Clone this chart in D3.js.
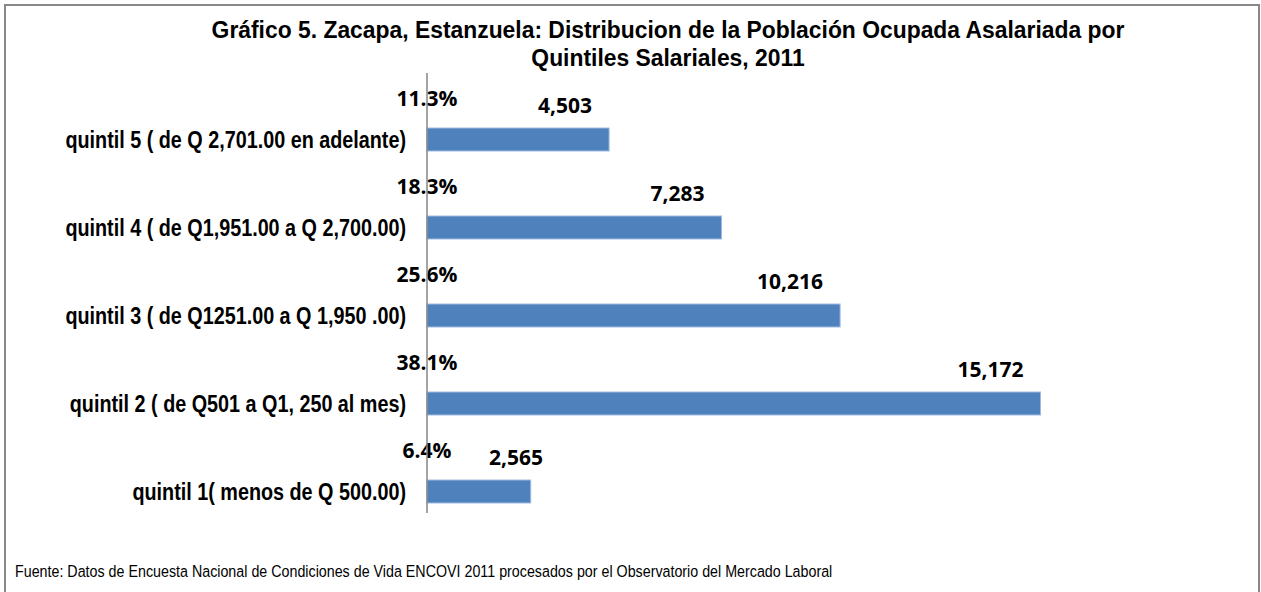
<!doctype html>
<html>
<head>
  <meta charset="utf-8">
  <title>Zacapa, Estanzuela: Población Ocupada Asalariada por Quintiles</title>
  <script src="https://cdnjs.cloudflare.com/ajax/libs/d3/7.8.5/d3.min.js"></script>
  <style>
  body { margin: 0; background: #fff; }
  .narrow { font-family: "Liberation Sans Narrow", "Arial Narrow", "Liberation Sans", sans-serif; fill: #000; }
  .lbl { font-family: "Open Sans", sans-serif; font-weight: bold; font-size: 21px; fill: #000; }
  </style>
</head>
<body>
  <script>
  var categories = [
    "quintil 5 ( de Q 2,701.00 en adelante)",
    "quintil 4 ( de Q1,951.00 a Q  2,700.00)",
    "quintil 3 ( de Q1251.00 a Q  1,950 .00)",
    "quintil 2 ( de Q501 a Q1, 250 al mes)",
    "quintil 1( menos de Q 500.00)"
  ];
  var workers = [4503, 7283, 10216, 15172, 2565];
  var shares = ["11.3%", "18.3%", "25.6%", "38.1%", "6.4%"];

  var titleLines = [
    "Gráfico 5. Zacapa, Estanzuela: Distribucion de la Población Ocupada Asalariada por",
    "Quintiles Salariales, 2011"
  ];
  var source = "Fuente: Datos de Encuesta Nacional de Condiciones de Vida ENCOVI 2011 procesados por el Observatorio del Mercado Laboral";

  var W = 1261, H = 592;
  var svg = d3.select("body").append("svg")
      .attr("width", W)
      .attr("height", H);

  // no narrow font installed: squeeze a normal one horizontally
  function narrowText(g, px, py, sx, anchor) {
    return g.append("g")
      .attr("transform", "translate(" + px + "," + py + ") scale(" + sx + ",1)")
      .append("text")
      .attr("class", "narrow")
      .attr("text-anchor", anchor);
  }

  svg.append("rect")
    .attr("x", 5).attr("y", 5)
    .attr("width", 1254).attr("height", 600)
    .attr("fill", "#fff")
    .attr("stroke", "#888")
    .attr("stroke-width", 2);

  titleLines.forEach(function(t, i) {
    narrowText(svg, 668, 38 + i * 28, 0.953, "middle")
      .style("font-weight", "bold")
      .style("font-size", "24px")
      .text(t);
  });

  var x = d3.scaleLinear()
      .domain([0, 16000])
      .range([427, 1074]);

  var y = d3.scaleBand()
      .domain(categories)
      .range([73, 513]);

  var barTop = 55, barH = 23;

  var rows = categories.map(function(c, i) {
    return {cat: c, value: workers[i], share: shares[i]};
  });

  svg.append("g")
    .selectAll("rect")
    .data(rows)
    .join("rect")
      .attr("x", x(0))
      .attr("y", function(d) { return y(d.cat) + barTop; })
      .attr("width", function(d) { return x(d.value) - x(0); })
      .attr("height", barH)
      .attr("fill", "#4f81bd")
      .attr("stroke", "#9fbbe0")
      .attr("stroke-width", 1);

  // category labels
  var catG = svg.append("g");
  rows.forEach(function(d) {
    narrowText(catG, 406, y(d.cat) + barTop + barH / 2, 0.86, "end")
      .attr("dy", "0.36em")
      .style("font-weight", "bold")
      .style("font-size", "23px")
      .text(d.cat);
  });

  // percentage labels
  svg.append("g")
    .selectAll("text")
    .data(rows)
    .join("text")
      .attr("class", "lbl")
      .attr("x", x(0))
      .attr("y", function(d) { return y(d.cat) + 25.5; })
      .attr("dy", "0.36em")
      .attr("text-anchor", "middle")
      .text(function(d) { return d.share; });

  // value labels, kept clear of the percentage label
  svg.append("g")
    .selectAll("text")
    .data(rows)
    .join("text")
      .attr("class", "lbl")
      .attr("x", function(d) { return Math.max(x(d.value) - 17, x(0) + 116); })
      .attr("y", function(d) { return y(d.cat) + 32; })
      .attr("dy", "0.36em")
      .attr("text-anchor", "end")
      .text(function(d) { return d3.format(",")(d.value); });

  // vertical category axis
  svg.append("line")
    .attr("x1", x(0)).attr("x2", x(0))
    .attr("y1", y.range()[0]).attr("y2", y.range()[1])
    .attr("stroke", "#868686")
    .attr("stroke-width", 1.5);

  narrowText(svg, 15, 577, 0.84, "start")
    .style("font-size", "17px")
    .text(source);
  </script>
</body>
</html>
